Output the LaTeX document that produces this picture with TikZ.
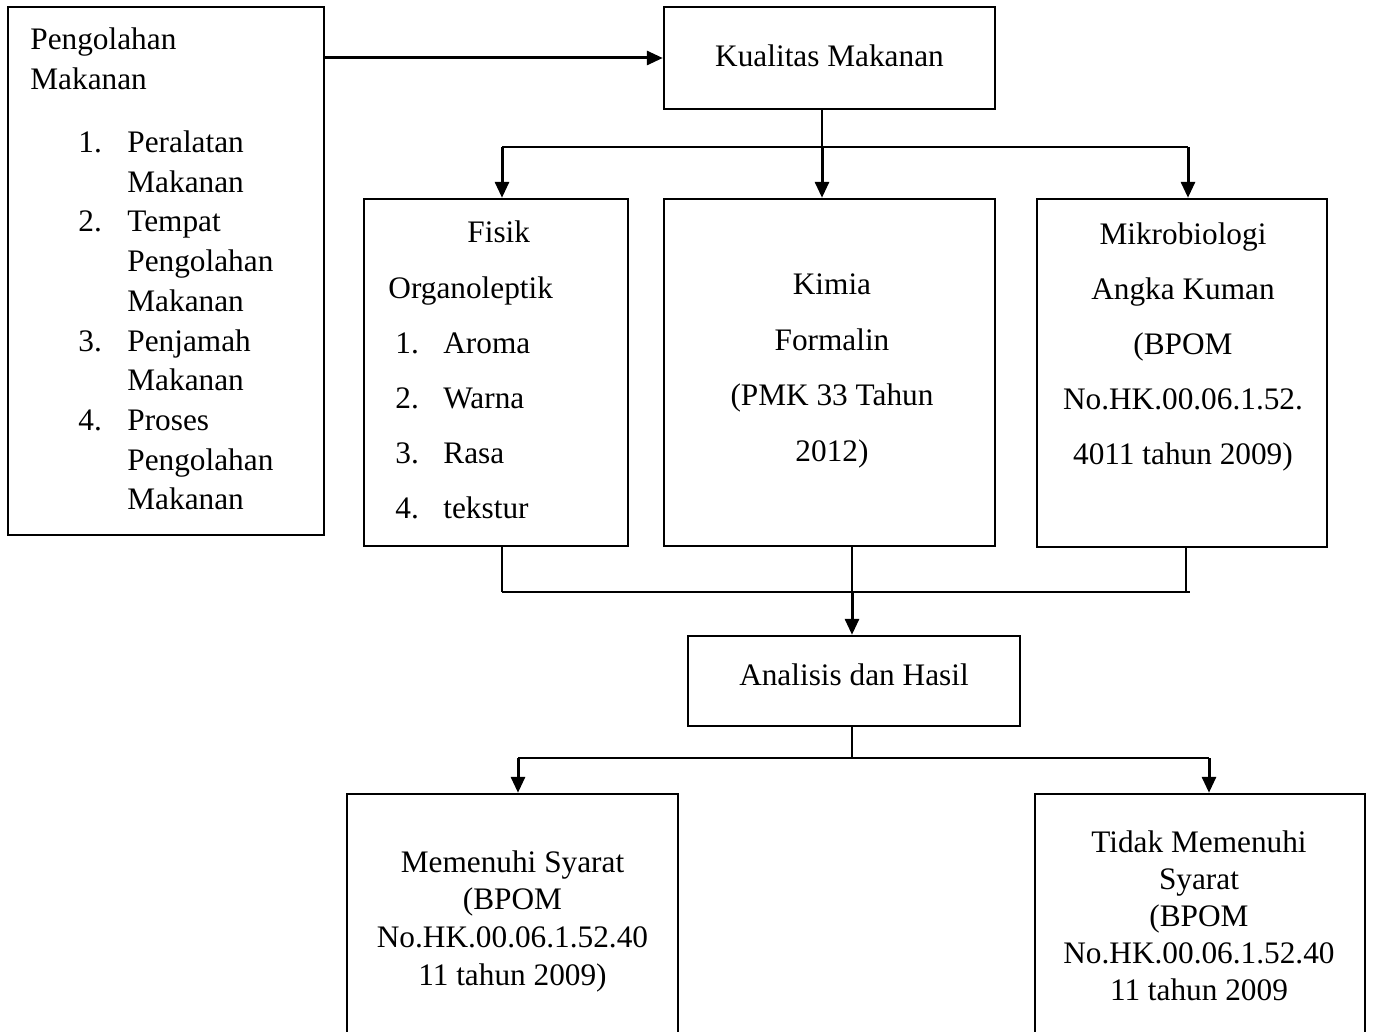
\documentclass[tikz,border=0pt]{standalone}
\usepackage{fontspec}
\setmainfont{Liberation Serif}
\usetikzlibrary{arrows.meta}

\begin{document}
\begin{tikzpicture}[x=0.5pt,y=-0.5pt,
  kotak/.style={draw, line width=1.2pt, inner sep=0pt},
  isi/.style={inner sep=0pt, font=\fontsize{15.65}{19.85}\selectfont},
  panah/.style={-{Triangle[length=8pt,width=7pt]}, line width=1.5pt},
  garis/.style={line width=0.6pt},
  sambung/.style={line width=1pt}]

\useasboundingbox (0,0) rectangle (1373,1032);
\clip (0,0) rectangle (1373,1032);

% kotak kiri
\node[kotak, minimum width=158pt, minimum height=264pt] (olah) at (166,271) {};
\node[isi, anchor=base west] (tOlah) at (30,50) {%
\begin{tabular}[t]{@{}p{24pt}@{}p{24.5pt}@{}l@{}}
\multicolumn{3}{@{}l@{}}{Pengolahan}\\
\multicolumn{3}{@{}l@{}}{Makanan}\\[11.6pt]
& 1. & Peralatan\\
& & Makanan\\
& 2. & Tempat\\
& & Pengolahan\\
& & Makanan\\
& 3. & Penjamah\\
& & Makanan\\
& 4. & Proses\\
& & Pengolahan\\
& & Makanan
\end{tabular}};

% kualitas
\node[kotak, isi, text depth=2pt, minimum width=165.5pt, minimum height=51pt] (kualitas) at (829.5,58) {Kualitas Makanan};
\draw[panah] (olah.east |- kualitas.west) -- (kualitas.west);

% tiga parameter
\node[kotak, minimum width=132pt, minimum height=173.5pt] (fisik) at (496,372.5) {};
\node[kotak, minimum width=165.5pt, minimum height=173.5pt] (kimia) at (829.5,372.5) {};
\node[kotak, minimum width=145pt, minimum height=174pt] (mikro) at (1182,373) {};

\node[isi, anchor=base west, font=\fontsize{15.65}{27.6}\selectfont] (tFisik) at (388,243) {%
\begin{tabular}[t]{@{\hspace{3.5pt}}p{24pt}@{}l@{}}
\multicolumn{2}{@{\hspace{39.5pt}}l@{}}{Fisik}\\
\multicolumn{2}{@{}l@{}}{Organoleptik}\\
1. & Aroma\\
2. & Warna\\
3. & Rasa\\
4. & tekstur
\end{tabular}};
\node[isi, anchor=base, font=\fontsize{15.65}{27.7}\selectfont] (tKimia) at (832,295) {%
\begin{tabular}[t]{@{}c@{}}
Kimia\\ Formalin\\ (PMK 33 Tahun\\ 2012)
\end{tabular}};
\node[isi, anchor=base, font=\fontsize{15.65}{27.5}\selectfont] (tMikro) at (1183,245) {%
\begin{tabular}[t]{@{}c@{}}
Mikrobiologi\\ Angka Kuman\\ (BPOM\\ No.HK.00.06.1.52.\\ 4011 tahun 2009)
\end{tabular}};

\coordinate (jFisik) at (502,147);
\coordinate (jKimia) at (822,147);
\coordinate (jMikro) at (1188,147);
\draw[sambung] (kualitas.south -| jKimia) -- (jKimia);
\draw[garis] (jFisik) -- (jMikro);
\draw[panah] (jFisik) -- (jFisik |- fisik.north);
\draw[panah] (jKimia) -- (jKimia |- kimia.north);
\draw[panah] (jMikro) -- (jMikro |- mikro.north);

% analisis
\node[kotak, isi, text depth=6pt, minimum width=166pt, minimum height=45pt] (analisis) at (854,681) {Analisis dan Hasil};

\coordinate (bFisik) at (502,592);
\coordinate (bKimia) at (852,592);
\coordinate (bMikro) at (1186,592);
\coordinate (bUjung) at (1190,592);
\draw[garis] (fisik.south -| bFisik) -- (bFisik);
\draw[garis] (kimia.south -| bKimia) -- (bKimia);
\draw[garis] (mikro.south -| bMikro) -- (bMikro);
\draw[garis] (bFisik) -- (bUjung);
\draw[panah] (bKimia) -- (bKimia |- analisis.north);

% hasil
\node[kotak, minimum width=165.5pt, minimum height=158pt] (memenuhi) at (512.5,952) {};
\node[kotak, minimum width=165pt, minimum height=158pt] (tidak) at (1200,952) {};

\node[isi, anchor=base, font=\fontsize{15.65}{18.9}\selectfont] (tMemenuhi) at (512.5,872) {%
\begin{tabular}[t]{@{}c@{}}
Memenuhi Syarat\\ (BPOM\\ No.HK.00.06.1.52.40\\ 11 tahun 2009)
\end{tabular}};
\node[isi, anchor=base, font=\fontsize{15.65}{18.6}\selectfont] (tTidak) at (1199,852) {%
\begin{tabular}[t]{@{}c@{}}
Tidak Memenuhi\\ Syarat\\ (BPOM\\ No.HK.00.06.1.52.40\\ 11 tahun 2009
\end{tabular}};

\coordinate (hAnalisis) at (852,758);
\coordinate (hKiri) at (518,758);
\coordinate (hKanan) at (1209,758);
\draw[sambung] (analisis.south -| hAnalisis) -- (hAnalisis);
\draw[garis] (hKiri) -- (hKanan);
\draw[panah] (hKiri) -- (hKiri |- memenuhi.north);
\draw[panah] (hKanan) -- (hKanan |- tidak.north);

\end{tikzpicture}
\end{document}
